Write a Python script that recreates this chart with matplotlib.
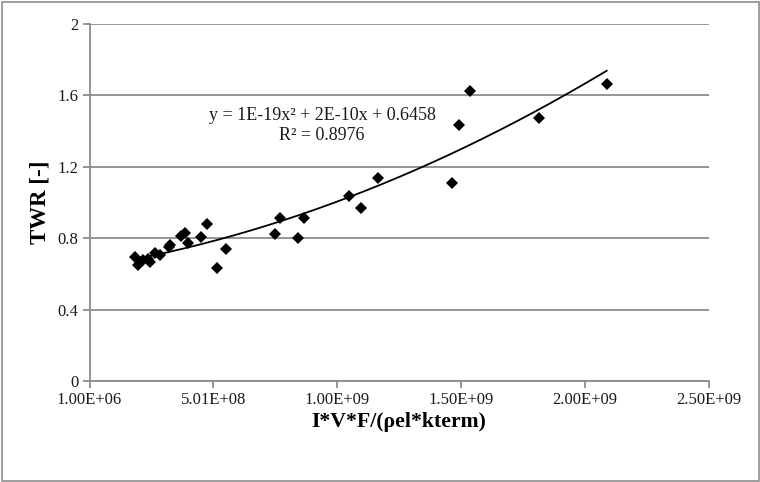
import numpy as np
import matplotlib
matplotlib.use("Agg")
import matplotlib.pyplot as plt
from matplotlib.patches import Rectangle
from matplotlib.ticker import FixedLocator, FixedFormatter

# Data
x_vals = [1.84e8, 1.97e8, 2.16e8, 2.38e8, 2.44e8, 2.64e8, 2.85e8, 3.22e8, 3.25e8,
          3.69e8, 3.88e8, 3.98e8, 4.50e8, 4.75e8, 5.15e8, 5.52e8, 7.50e8, 7.70e8,
          8.41e8, 8.65e8, 1.049e9, 1.096e9, 1.167e9, 1.465e9, 1.491e9, 1.536e9,
          1.816e9, 2.088e9]
y_vals = [0.693, 0.650, 0.680, 0.682, 0.668, 0.715, 0.706, 0.752, 0.760,
          0.812, 0.827, 0.775, 0.805, 0.880, 0.631, 0.737, 0.825, 0.911,
          0.799, 0.911, 1.036, 0.967, 1.136, 1.108, 1.434, 1.626,
          1.472, 1.664]

x_ticks = [1.0e6, 5.01e8, 1.001e9, 1.501e9, 2.001e9, 2.501e9]
x_tick_labels = ["1.00E+06", "5.01E+08", "1.00E+09", "1.50E+09", "2.00E+09", "2.50E+09"]
y_ticks = [0, 0.4, 0.8, 1.2, 1.6, 2.0]
y_tick_labels = ["0", "0.4", "0.8", "1.2", "1.6", "2"]

eq_text = "y = 1E-19x\u00b2 + 2E-10x + 0.6458"
r2_text = "R\u00b2 = 0.8976"
x_label = "I*V*F/(\u03c1el*kterm)"
y_label = "TWR [-]"

plt.rcParams['font.family'] = ['Liberation Serif', 'DejaVu Serif']

W, H = 760, 482
fig = plt.figure(figsize=(W / 100, H / 100), dpi=100)
ax = fig.add_axes([89.5 / W, 1 - 381 / H, (709 - 89.5) / W, (381 - 24) / H])

grid_col = "#8c8c8c"

# trendline (2nd-order polynomial fit, as in the original spreadsheet)
coef = np.polyfit(np.array(x_vals), np.array(y_vals), 2)
xs = np.linspace(min(x_vals), max(x_vals), 200)
ax.plot(xs, np.polyval(coef, xs), color="black", lw=1.3, zorder=3)

ax.plot(x_vals, y_vals, linestyle="none", marker="D", ms=6.6,
        color="black", mec="black", mew=0, zorder=4)

ax.set_xlim(x_ticks[0], x_ticks[-1])
ax.set_ylim(0, 2)
ax.xaxis.set_major_locator(FixedLocator(x_ticks))
ax.xaxis.set_major_formatter(FixedFormatter(x_tick_labels))
ax.yaxis.set_major_locator(FixedLocator(y_ticks))
ax.yaxis.set_major_formatter(FixedFormatter(y_tick_labels))

ax.grid(axis="y", color=grid_col, lw=1.3)
ax.set_axisbelow(True)
for s in ["top", "right"]:
    ax.spines[s].set_visible(False)
for s in ["left", "bottom"]:
    ax.spines[s].set_color(grid_col)
    ax.spines[s].set_linewidth(1.3)
ax.tick_params(axis="both", direction="out", length=5, width=1.3, color=grid_col,
               labelsize=12, labelcolor="#1a1a1a", pad=3)

ax.set_xlabel(x_label, fontsize=15.7, fontweight="bold", labelpad=3)
ax.set_ylabel(y_label, fontsize=16.5, fontweight="bold", labelpad=5)

ax.text(9.40e8, 1.49, eq_text, fontsize=13, ha="center", va="center", color="#1a1a1a")
ax.text(9.40e8, 1.375, r2_text, fontsize=13, ha="center", va="center", color="#1a1a1a")

fig.add_artist(Rectangle((1.5 / W, 1.5 / H), (W - 3) / W, (H - 3) / H,
                         transform=fig.transFigure, fill=False,
                         edgecolor="#8c8c8c", lw=1.2))

fig.savefig("out.png", dpi=100)
